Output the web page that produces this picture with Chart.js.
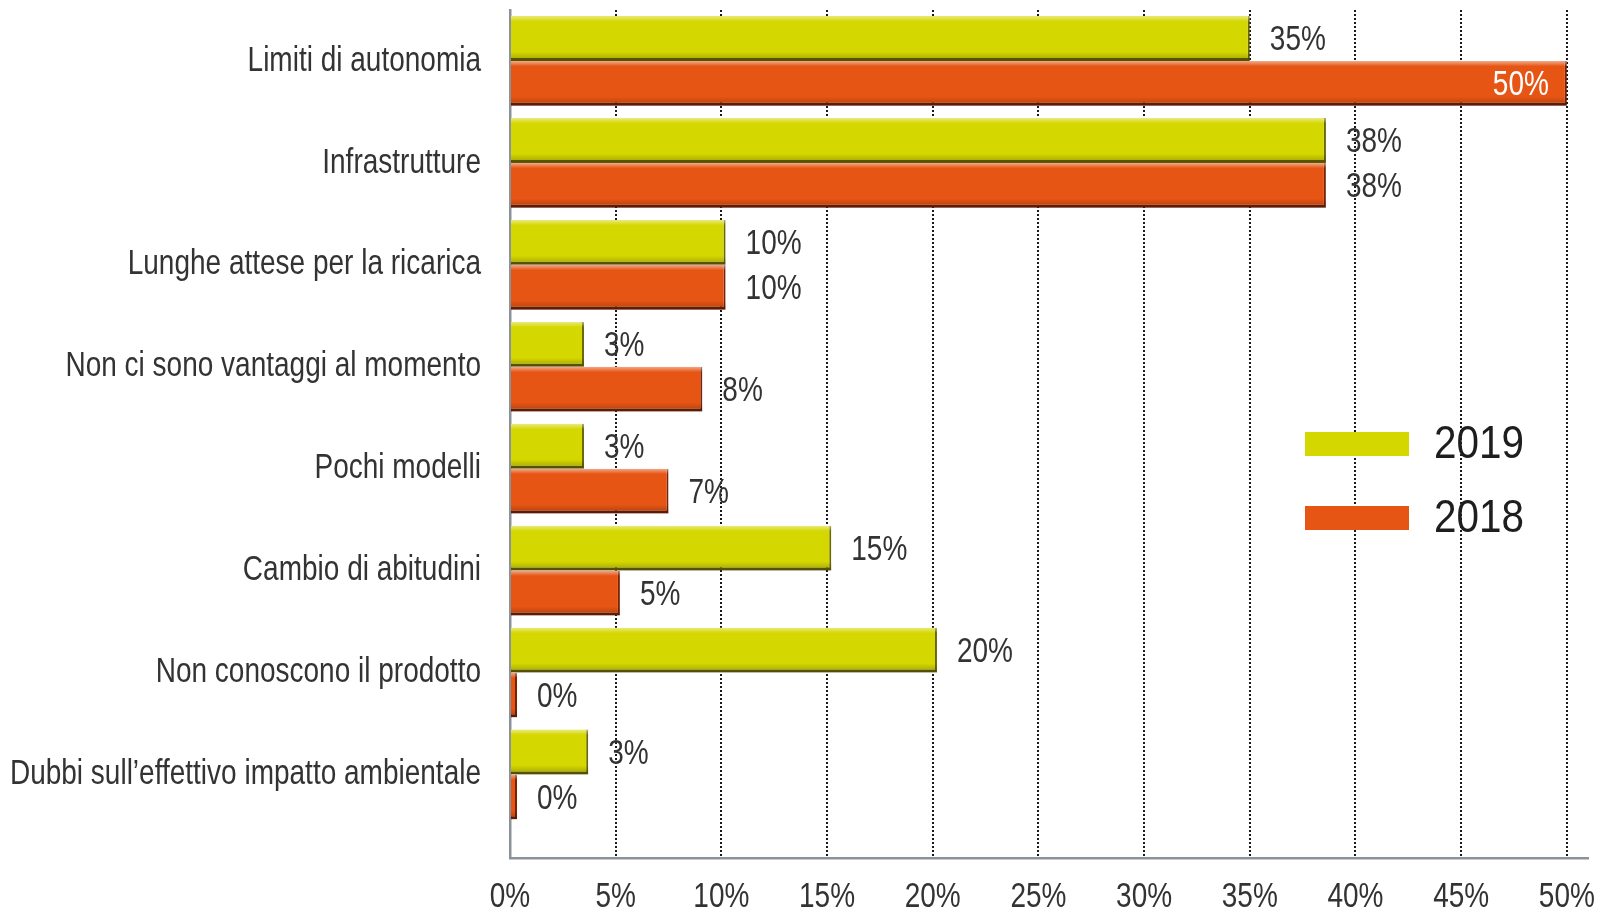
<!DOCTYPE html>
<html>
<head>
<meta charset="utf-8">
<script src="https://cdn.jsdelivr.net/npm/chart.js@4.4.1/dist/chart.umd.min.js"></script>
<style>
  html, body { margin: 0; padding: 0; background: #fff; }
</style>
</head>
<body>
<canvas id="grafico" width="1598" height="914"></canvas>
<script>
var categorie = [
  'Limiti di autonomia',
  'Infrastrutture',
  'Lunghe attese per la ricarica',
  'Non ci sono vantaggi al momento',
  'Pochi modelli',
  'Cambio di abitudini',
  'Non conoscono il prodotto',
  'Dubbi sull\u2019effettivo impatto ambientale'
];
// bar lengths (%)
var valori2019 = [35, 38.6, 10.2, 3.5, 3.5, 15.2, 20.2, 3.7];
var valori2018 = [50, 38.6, 10.2, 9.1, 7.5, 5.2, 0, 0];
// printed labels
var etichette2019 = ['35%', '38%', '10%', '3%', '3%', '15%', '20%', '3%'];
var etichette2018 = ['50%', '38%', '10%', '8%', '7%', '5%', '0%', '0%'];
var tickX = [0, 5, 10, 15, 20, 25, 30, 35, 40, 45, 50];

var font = "'Liberation Sans', Arial, sans-serif";
var testo = '#333333';

// condensed look: squeeze the text horizontally
function scrivi(ctx, str, x, y, size, align, color, stretch) {
  ctx.save();
  ctx.font = size + 'px ' + font;
  ctx.fillStyle = color;
  ctx.textAlign = align;
  ctx.textBaseline = 'middle';
  ctx.translate(x, y);
  ctx.scale(stretch || 0.8, 1);
  ctx.fillText(str, 0, 0);
  ctx.restore();
}

var etichettePlugin = {
  id: 'etichette',
  afterDatasetsDraw: function(chart) {
    var ctx = chart.ctx;
    chart.data.datasets.forEach(function(ds, i) {
      var meta = chart.getDatasetMeta(i);
      meta.data.forEach(function(bar, j) {
        var p = bar.getProps(['x', 'y', 'base', 'height'], true);
        var top = p.y - p.height / 2;
        var g = ctx.createLinearGradient(0, top, 0, top + p.height);
        g.addColorStop(0, 'rgba(255,255,255,0.5)');
        g.addColorStop(0.12, 'rgba(255,255,255,0)');
        g.addColorStop(0.8, 'rgba(0,0,0,0)');
        g.addColorStop(1, 'rgba(0,0,0,0.25)');
        ctx.save();
        ctx.fillStyle = g;
        ctx.fillRect(p.base, top, p.x - p.base, p.height);
        ctx.restore();

        if (ds.data[j] >= 45) {
          scrivi(ctx, ds.etichette[j], p.x - 18, p.y + 2, 35, 'right', '#fff');
        } else {
          scrivi(ctx, ds.etichette[j], p.x + 20, p.y + 2, 35, 'left', testo);
        }
      });
    });
  },
  afterDraw: function(chart) {
    var ctx = chart.ctx;
    var sx = chart.scales.x, sy = chart.scales.y;
    sy.ticks.forEach(function(t, i) {
      scrivi(ctx, chart.data.labels[t.value], sy.right - 29, sy.getPixelForTick(i), 35, 'right', testo);
    });
    sx.ticks.forEach(function(t) {
      scrivi(ctx, t.value + '%', sx.getPixelForValue(t.value), sx.top + 39, 35, 'center', testo);
    });
    // legend
    chart.data.datasets.forEach(function(ds, i) {
      var y = 444 + i * 74;
      ctx.save();
      ctx.fillStyle = ds.backgroundColor;
      ctx.fillRect(1305, y - 12, 104, 24);
      ctx.restore();
      scrivi(ctx, ds.label, 1434, y + 1, 47, 'left', '#1e1e1e', 0.86);
    });
  }
};

var ctx = document.getElementById('grafico');
var grafico = new Chart(ctx, {
  type: 'bar',
  data: {
    labels: categorie,
    datasets: [
      {
        label: '2019',
        data: valori2019,
        etichette: etichette2019,
        backgroundColor: '#d4d700',
        borderColor: '#6a6700',
        borderWidth: { top: 0, right: 2, bottom: 3, left: 0 },
        borderSkipped: 'start'
      },
      {
        label: '2018',
        data: valori2018,
        etichette: etichette2018,
        backgroundColor: '#e65514',
        borderColor: '#7a2104',
        borderWidth: { top: 0, right: 2, bottom: 3, left: 0 },
        borderSkipped: 'start',
        minBarLength: 7
      }
    ]
  },
  options: {
    indexAxis: 'y',
    responsive: false,
    animation: false,
    layout: { padding: { top: 10, right: 10, left: 0, bottom: 0 } },
    plugins: {
      legend: { display: false },
      tooltip: { enabled: false }
    },
    datasets: {
      bar: { categoryPercentage: 0.88, barPercentage: 1.0 }
    },
    scales: {
      x: {
        min: 0,
        max: 51,
        afterBuildTicks: function(scale) {
          scale.ticks = tickX.map(function(v) { return { value: v }; });
        },
        afterFit: function(scale) { scale.height = 56; },
        grid: {
          color: function(c) { return c.tick && c.tick.value === 0 ? 'rgba(0,0,0,0)' : '#1a1a1a'; },
          lineWidth: 2,
          drawTicks: false
        },
        border: { display: true, color: '#8b9299', width: 2.5, dash: [2, 2] },
        ticks: { display: false }
      },
      y: {
        afterBuildTicks: function(scale) { scale._valueRange += 0.32; },
        afterFit: function(scale) { scale.width = 510; },
        grid: { display: false, drawTicks: false },
        border: { display: true, color: '#8b9299', width: 2.5 },
        ticks: { display: false }
      }
    }
  },
  plugins: [etichettePlugin]
});
</script>
</body>
</html>
